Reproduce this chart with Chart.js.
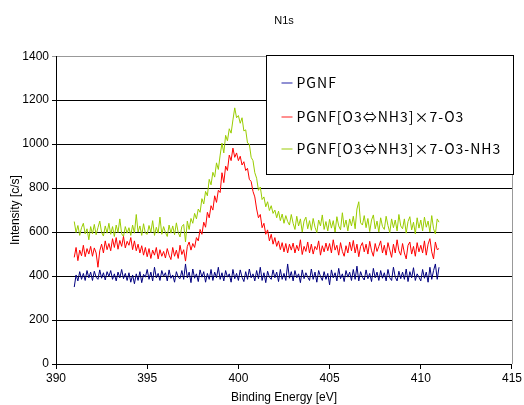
<!DOCTYPE html>
<html>
<head>
<meta charset="utf-8">
<title>N1s</title>
<script src="https://cdn.jsdelivr.net/npm/chart.js@4.4.0/dist/chart.umd.min.js"></script>
<style>
  html, body { margin: 0; padding: 0; background: #fff; }
</style>
</head>
<body>
<canvas id="n1sChart" width="524" height="405"></canvas>
<script>
// binding energy scan: 391.0 -> 411.0 eV, 0.1 eV per step
const eStart = 391.0;
const eStep = 0.1;

const seriesNames = ['PGNF', 'PGNF[O3⇔NH3]×7-O3', 'PGNF[O3⇔NH3]×7-O3-NH3'];
const seriesColors = ['#000080', '#ff0000', '#99cc00'];
const legendSwatch = ['#6b6bc4', '#ff6a6a', '#bcdc5a'];

const pgnf = [
    350, 405, 378, 420, 385, 412, 380, 425, 392, 418,
    380, 422, 395, 385, 428, 390, 415, 382, 420, 398,
    425, 385, 410, 378, 418, 392, 430, 388, 412, 380,
    415, 372, 405, 365, 410, 380, 420, 370, 408, 395,
    430, 385, 418, 378, 440, 392, 412, 380, 425, 398,
    415, 378, 428, 390, 405, 372, 420, 395, 388, 425,
    385, 455, 392, 418, 370, 432, 390, 410, 375, 428,
    395, 420, 372, 412, 385, 430, 380, 418, 392, 440,
    385, 415, 378, 425, 395, 410, 372, 430, 388, 412,
    380, 428, 395, 375, 420, 385, 432, 392, 410, 378,
    425, 388, 440, 380, 415, 370, 422, 395, 385, 428,
    392, 418, 375, 430, 385, 412, 380, 455, 390, 420,
    378, 425, 392, 410, 370, 428, 388, 415, 395, 380,
    432, 385, 418, 372, 425, 398, 380, 420, 385, 412,
    360, 428, 392, 415, 378, 435, 388, 410, 375, 425,
    395, 418, 380, 430, 385, 445, 378, 420, 395, 382,
    428, 388, 412, 375, 435, 392, 418, 380, 425, 390,
    415, 378, 430, 392, 380, 440, 395, 378, 422, 388,
    418, 385, 432, 375, 420, 392, 438, 380, 410, 395,
    378, 430, 390, 418, 372, 440, 385, 425, 455, 385,
    440
];

const pgnfO3 = [
    485, 530, 470, 518, 492, 540, 488, 525, 500, 535,
    490, 528, 505, 440, 515, 545, 505, 560, 520, 548,
    515, 570, 530, 575, 522, 562, 535, 580, 528, 558,
    540, 575, 520, 560, 515, 545, 505, 538, 495, 530,
    488, 525, 480, 518, 495, 530, 478, 520, 490, 512,
    482, 525, 495, 475, 530, 490, 518, 480, 540, 498,
    520, 468, 535, 555, 518, 548, 530, 575, 560, 612,
    590, 645, 622, 690, 665, 720, 700, 765, 735, 790,
    780, 870, 825, 900, 880, 950, 925, 982, 940, 960,
    925, 945, 905, 920, 880, 890, 840, 830, 785, 760,
    705, 665, 680, 620, 640, 590, 610, 560, 590, 545,
    575, 535, 560, 520, 552, 510, 548, 505, 545, 518,
    550, 505, 540, 515, 565, 498, 535, 512, 555, 505,
    545, 500, 535, 520, 560, 495, 538, 510, 550, 515,
    548, 505, 565, 518, 540, 495, 552, 512, 490, 538,
    505, 555, 515, 562, 505, 545, 488, 535, 552, 510,
    545, 500, 558, 515, 490, 548, 512, 535, 560, 505,
    540, 495, 552, 518, 485, 545, 505, 565, 515, 495,
    548, 505, 478, 540, 555, 500, 535, 490, 552, 510,
    540, 505, 560, 495, 545, 570, 510, 478, 555, 520,
    525
];

const pgnfO3NH3 = [
    648, 598, 630, 585, 620, 640, 592, 615, 565, 625,
    592, 635, 588, 620, 650, 598, 582, 628, 595, 640,
    590, 625, 580, 632, 598, 660, 592, 580, 625, 595,
    620, 585, 632, 595, 680, 600, 628, 585, 638, 595,
    590, 630, 598, 652, 585, 622, 595, 668, 590, 625,
    598, 580, 632, 595, 628, 588, 642, 598, 578, 625,
    635, 555, 650, 612, 662, 640, 685, 660, 705, 690,
    752, 728, 785, 765, 840, 815, 872, 850, 915, 885,
    950, 1005, 960, 1040, 1015, 1070, 1050, 1110, 1165, 1120,
    1130, 1095, 1120, 1060, 1065, 1005, 1000, 940, 925, 870,
    845, 790, 805, 748, 760, 715, 738, 698, 720, 685,
    700, 665, 695, 652, 682, 640, 675, 648, 632, 680,
    640, 612, 672, 628, 660, 600, 650, 668, 615, 652,
    608, 662, 622, 598, 655, 628, 678, 612, 648, 605,
    658, 618, 652, 600, 670, 628, 610, 688, 622, 655,
    605, 660, 628, 672, 615, 705, 738, 642, 632, 675,
    620, 662, 602, 655, 678, 615, 650, 600, 665, 625,
    612, 672, 630, 598, 660, 620, 655, 605, 680, 628,
    615, 660, 595, 648, 670, 610, 645, 592, 665, 618,
    655, 605, 668, 622, 650, 600, 675, 615, 592, 660,
    645
];

const baseFont = 'Liberation Sans, Arial, sans-serif';
const legendFont = '"Noto Sans CJK JP", "DejaVu Sans", sans-serif';

// pair every intensity with its energy on the scan grid
const toPoints = (values) => values.map((v, i) => ({ x: +(eStart + i * eStep).toFixed(1), y: v }));

// grey right edge of the plot + boxed legend in the upper right
const frameAndLegend = {
    id: 'frameAndLegend',
    beforeDatasetsDraw(chart) {
        const { ctx, chartArea: a } = chart;
        ctx.save();
        ctx.strokeStyle = '#999';
        ctx.lineWidth = 1;
        ctx.beginPath();
        ctx.moveTo(Math.round(a.right) + 0.5, a.top);
        ctx.lineTo(Math.round(a.right) + 0.5, a.bottom);
        ctx.stroke();
        ctx.restore();
    },
    afterDraw(chart) {
        const { ctx, chartArea: a } = chart;
        const x0 = Math.round(a.left) + 210.5;
        const y0 = Math.round(a.top) - 0.5;
        const x1 = Math.round(a.right) + 1.5;
        const y1 = 174.5;
        ctx.save();
        ctx.fillStyle = '#fff';
        ctx.fillRect(x0, y0, x1 - x0, y1 - y0);
        ctx.strokeStyle = '#000';
        ctx.lineWidth = 1;
        ctx.strokeRect(x0, y0, x1 - x0, y1 - y0);
        ctx.font = '14px ' + legendFont;
        ctx.letterSpacing = '1px';
        ctx.textBaseline = 'middle';
        const rows = [83, 117, 149];
        chart.data.datasets.forEach((ds, i) => {
            const y = rows[i];
            ctx.strokeStyle = legendSwatch[i];
            ctx.lineWidth = 1.5;
            ctx.beginPath();
            ctx.moveTo(x0 + 15, y);
            ctx.lineTo(x0 + 26, y);
            ctx.stroke();
            ctx.fillStyle = '#000';
            ctx.fillText(ds.label, x0 + 30, y);
        });
        ctx.restore();
    }
};

new Chart(document.getElementById('n1sChart').getContext('2d'), {
    type: 'line',
    data: {
        datasets: [pgnf, pgnfO3, pgnfO3NH3].map((vals, i) => ({
            label: seriesNames[i],
            data: toPoints(vals),
            borderColor: seriesColors[i],
            backgroundColor: seriesColors[i],
            borderWidth: 1,
            pointRadius: 0,
            tension: 0,
            fill: false
        }))
    },
    options: {
        responsive: false,
        animation: false,
        layout: { padding: { left: 0, right: 9, top: 0, bottom: 0 } },
        plugins: {
            legend: { display: false },
            tooltip: { enabled: false },
            title: {
                display: true,
                text: 'N1s',
                fullSize: false,
                color: '#000',
                font: { family: baseFont, size: 11, weight: 'normal' },
                padding: { top: 14, bottom: 29 }
            }
        },
        scales: {
            x: {
                type: 'linear',
                min: 390,
                max: 415,
                ticks: { stepSize: 5, color: '#000', padding: 2, maxRotation: 0, font: { family: baseFont, size: 12 } },
                grid: { drawOnChartArea: false, drawTicks: true, tickLength: 5, color: '#000' },
                border: { color: '#000' },
                title: {
                    display: true,
                    text: 'Binding Energy [eV]',
                    color: '#000',
                    font: { family: baseFont, size: 12 },
                    padding: { top: 0, bottom: 0 }
                },
                afterFit: (s) => { s.height = 41; }
            },
            y: {
                min: 0,
                max: 1400,
                ticks: {
                    stepSize: 200,
                    color: '#000',
                    padding: 3,
                    font: { family: baseFont, size: 12 },
                    callback: (v) => String(v)
                },
                grid: {
                    color: (c) => (c.tick && c.tick.value === 1400 ? '#999' : '#000'),
                    tickLength: 4
                },
                border: { color: '#000' },
                title: {
                    display: true,
                    text: 'Intensity [c/s]',
                    color: '#000',
                    font: { family: baseFont, size: 12 },
                    padding: { top: 8, bottom: 0 }
                },
                afterFit: (s) => { s.width = 56; }
            }
        }
    },
    plugins: [frameAndLegend]
});
</script>
</body>
</html>
